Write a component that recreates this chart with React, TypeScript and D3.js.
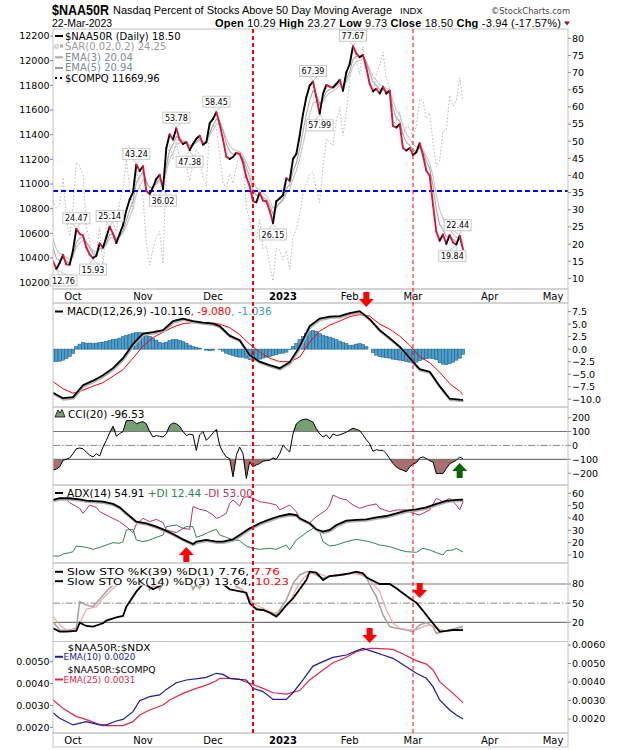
import React from 'react';
import * as d3 from 'd3';

// ---------------- calendar ----------------
const firstSession = '2022-09-23';
const axisEnd = '2023-05-20';
const marketHolidays = ['2022-11-24', '2022-12-26', '2023-01-02', '2023-01-16', '2023-02-20', '2023-04-07'];

// ---------------- header ----------------
const symbol = '$NAA50R';
const chartTitle = 'Nasdaq Percent of Stocks Above 50 Day Moving Average';
const exchange = 'INDX';
const lastDate = '22-Mar-2023';
const quoteFields = [
  { label: 'Open', value: '10.29' },
  { label: 'High', value: '23.27' },
  { label: 'Low', value: '9.73' },
  { label: 'Close', value: '18.50' },
  { label: 'Chg', value: '-3.94 (-17.57%)' },
];

// ---------------- price panel (daily closes, 23-Sep-2022 .. 22-Mar-2023) ----------------
const naa50r = [
  15.0, 12.76, 14.5, 16.8, 14.1, 14.0, 18.2, 24.47, 23.0, 22.5,
  19.0, 17.0, 15.93, 16.6, 20.2, 19.0, 22.0, 25.14, 23.0, 20.3,
  23.0, 25.5, 29.8, 33.0, 35.1, 43.24, 41.3, 42.7, 35.5, 34.6,
  36.6, 39.0, 40.2, 36.02, 48.0, 52.0, 50.5, 53.78, 50.4, 49.2,
  49.7, 47.38, 49.2, 50.7, 51.6, 49.0, 49.7, 55.2, 56.5, 58.45,
  55.0, 50.5, 45.5, 44.8, 45.4, 46.6, 46.3, 43.8, 39.5, 37.0,
  32.5, 32.2, 35.0, 32.7, 32.5, 29.8, 26.15, 32.5, 33.3, 34.3,
  39.2, 38.5, 44.8, 46.3, 51.6, 57.9, 62.8, 66.2, 67.39, 62.8,
  57.99, 63.8, 66.4, 65.9, 65.7, 66.7, 67.9, 64.7, 70.1, 72.5,
  77.67, 75.6, 74.5, 75.1, 71.5, 66.8, 64.6, 65.3, 63.9, 65.8,
  63.9, 64.7, 54.4, 54.0, 55.0, 48.0, 47.3, 48.0, 46.0, 46.8,
  49.4, 45.9, 41.4, 40.0, 31.5, 23.6, 21.0, 22.8, 20.1, 22.6,
  20.5, 19.84, 22.44, 18.5,
];
const compq = [
  10867.93, 10802.92, 10829.5, 11051.64, 10737.51, 10575.62,
  10815.43, 11176.41, 11148.64, 11073.31, 10652.41, 10542.1, 10426.19, 10417.1, 10649.15, 10321.39,
  10675.8, 10772.4, 10680.51, 10614.84, 10859.72, 10952.61, 11199.12, 10970.99, 10792.68, 11102.45, 10988.15,
  10890.85, 10524.8, 10342.94, 10475.25, 10564.52, 10616.2, 10353.17, 11114.15, 11323.33, 11196.22,
  11358.41, 11183.66, 11144.96, 11146.06, 11024.51, 11174.41, 11285.32, 11226.36, 11049.5, 10983.78, 11468.0,
  11482.45, 11461.5, 11239.94, 11014.89, 10958.55, 11082.0, 11004.62, 11143.74, 11256.81, 11170.89,
  10810.53, 10705.41, 10546.03, 10547.11, 10709.37, 10476.12, 10497.86, 10353.23, 10213.29, 10478.09, 10466.48,
  10386.98, 10458.76, 10305.24, 10569.29, 10635.65, 10742.63, 10931.67, 11001.1, 11079.16, 11095.11,
  10957.01, 10852.27, 11140.43, 11364.41, 11334.27, 11313.36, 11512.41, 11621.71, 11393.81, 11584.55,
  11816.32, 12200.82, 12006.95, 11887.45, 12113.79, 11910.52, 11789.58, 11718.12, 11891.79, 11960.15,
  12070.59, 11855.83, 11787.27, 11492.3, 11507.07, 11590.4, 11394.94, 11466.98, 11455.54,
  11379.48, 11462.98, 11689.01, 11675.74, 11530.33, 11576.0, 11338.35, 11138.89, 11188.84, 11428.15,
  11434.05, 11717.28, 11630.51, 11675.54, 11860.11, 11669.96,
];
const emaStart3 = 19.0;
const emaStart5 = 21.5;
const legendValues = { sar: '24.25', ema3: '20.04', ema5: '20.94' };
const breadthLevel = 35.5;
const markedDays = [60, 108];
const pointLabels = [
  { day: 1, above: false, dx: 0 }, { day: 7, above: true, dx: 0 }, { day: 12, above: false, dx: 0 },
  { day: 17, above: true, dx: 0 }, { day: 25, above: true, dx: 0 }, { day: 33, above: false, dx: 0 },
  { day: 37, above: true, dx: 0 }, { day: 41, above: false, dx: 0 }, { day: 49, above: true, dx: 0 },
  { day: 66, above: false, dx: 0 }, { day: 78, above: true, dx: 0 }, { day: 80, above: false, dx: 0 },
  { day: 90, above: true, dx: 0 }, { day: 121, above: false, dx: -4 }, { day: 122, above: true, dx: -2 },
];
const mainRightTicks = [80, 75, 70, 65, 60, 55, 50, 45, 40, 35, 30, 25, 20, 15, 10];
const mainLeftTicks = [12200, 12000, 11800, 11600, 11400, 11200, 11000, 10800, 10600, 10400, 10200];

// ---------------- MACD(12,26,9) ----------------
const macdDays = [0, 3, 6, 9, 12, 15, 18, 21, 24, 27, 30, 33, 36, 39, 42, 45, 48, 50, 53, 56, 59, 62, 65, 68, 71, 74, 77, 80, 83, 86, 89, 92, 95, 98, 101, 104, 107, 110, 113, 116, 119, 122, 123];
const macdLine = [-8.7, -9.8, -9.6, -7.2, -6.3, -5.2, -3.8, -1.8, 1.0, 3.1, 3.4, 3.8, 5.6, 6.1, 5.6, 5.3, 5.1, 4.6, 2.7, 1.8, -1.2, -2.5, -3.2, -3.8, -2.6, 0.5, 4.6, 6.1, 6.5, 6.6, 7.2, 7.6, 6.0, 3.8, 2.2, 0.5, -1.8, -4.0, -4.5, -7.4, -9.9, -10.1, -10.116];
const macdSignal = [-6.5, -7.9, -8.8, -8.2, -7.4, -6.7, -5.4, -4.1, -1.8, 0.6, 2.3, 3.4, 4.4, 5.1, 5.3, 5.3, 5.2, 5.0, 4.3, 2.9, 1.0, -0.6, -1.8, -2.5, -2.5, -1.6, 1.4, 3.6, 4.8, 5.6, 6.5, 6.9, 6.6, 5.0, 4.0, 2.6, 0.8, -1.5, -2.7, -4.6, -6.9, -8.4, -9.08];
const macdHist = [
  -2.5, -2.5, -2.4, -2.2, -1.9, -1.5, -0.9, 0.5, 1.0, 1.3, 1.2, 1.2, 1.1, 1.2, 1.3, 1.4, 1.5, 1.7, 1.9, 2.0,
  2.2, 2.5, 2.7, 2.9, 3.1, 3.3, 3.3, 3.2, 2.9, 2.5, 2.2, 1.8, 1.3, 1.2, 1.4, 1.7, 1.9, 1.9, 1.7, 1.5,
  1.2, 0.8, 0.5, 0.3, 0.2, 0.0, -0.2, -0.3, -0.2, 0.0,
  -0.1, -0.4, -0.8, -1.1, -1.3, -1.5, -1.6, -1.6, -1.8,
  -2.1, -2.3, -2.2, -2.0, -1.8, -1.6, -1.5, -1.3, -1.1, -0.9,
  -0.8, -0.6, -0.1, 0.5, 1.1, 1.9, 2.5, 3.1, 3.5, 3.7,
  3.5, 3.1, 2.7, 2.6, 2.4, 2.2, 1.9, 1.6, 1.3, 1.1,
  0.7, 0.8, 1.0, 1.1, 0.9, 0.5, 0.0, -0.7, -1.2, -1.5,
  -1.6, -1.7, -1.8, -2.0, -2.1, -2.2, -2.3, -2.5, -2.6, -2.8,
  -2.6, -2.3, -2.0, -1.9, -1.8, -1.9, -2.1, -2.7, -3.0, -3.1,
  -2.9, -2.6, -2.2, -1.8, -1.04,
];
const macdLegend = ['-10.116', '-9.080', '-1.036'];
const macdTicks = [7.5, 5, 2.5, 0, -2.5, -5, -7.5, -10];

// ---------------- CCI(20) ----------------
const cci = [
  -179, -170, -155, -107, -100, -90, -60, -24, -19, -24, -48, -70, -83, -60, -76, -12, 36, 90, 138, 67,
  85, 100, 179, 179, 179, 155, 165, 171, 155, 100, 60, 71, 65, 60, 83, 143, 162, 155, 138, 100,
  71, 80, 76, -36, 76, 100, 36, 60, 90, 114,
  0, -50, -83, -95, -226, -71, -12, -60, -238,
  -119, -155, -140, -131, -114, -110, -107, -90, -100, -60,
  0, -24, -48, 83, 155, 175, 186, 190, 180, 167,
  119, 83, 60, 76, 48, 83, 71, 76, 85, 95,
  110, 124, 115, 107, 76, 40, 12, -43, -31, -36,
  -36, -60, -95, -130, -155, -170, -179, -190, -155, -135,
  -124, -90, -83, -95, -110, -119, -202, -202, -202, -167,
  -131, -120, -107, -83, -96.53,
];
const cciTicks = [200, 100, 0, -100, -200];

// ---------------- ADX(14) ----------------
const adxDays = [0, 2, 5, 8, 10, 15, 18, 20, 22, 25, 28, 31, 33, 36, 39, 42, 43, 46, 49, 51, 54, 56, 59, 62, 65, 68, 71, 73, 74, 77, 79, 81, 83, 85, 88, 91, 94, 97, 100, 103, 106, 109, 112, 115, 118, 121, 123];
const adxLine = [54.6, 56, 56, 55.1, 54, 53.2, 51.4, 48.6, 43.8, 37, 35.7, 33, 30.8, 27, 22.7, 18.9, 20.8, 22.2, 20.8, 20.8, 22.7, 26.2, 31.6, 35.7, 38.9, 41.6, 43.2, 42.4, 39.7, 35.7, 30.8, 28.9, 30.3, 34.3, 37.8, 38.4, 38.9, 40.5, 41.6, 43.8, 45.9, 47, 48.6, 51.4, 53.8, 54.6, 54.91];
const minusDiDays = [0, 2, 4, 5, 8, 9, 10, 11, 13, 14, 17, 20, 22, 24, 25, 26, 27, 29, 31, 33, 34, 37, 39, 41, 42, 44, 46, 48, 49, 50, 52, 53, 54, 56, 57, 58, 60, 62, 65, 67, 68, 70, 71, 73, 74, 76, 77, 79, 82, 83, 84, 86, 88, 90, 92, 94, 97, 98, 101, 103, 106, 108, 110, 113, 115, 117, 119, 121, 122, 123];
const minusDi = [54.6, 56, 55, 52.4, 47.8, 43.8, 47, 50.5, 48.6, 45.1, 41, 37, 33, 28.1, 35.1, 37, 39.7, 37, 38.9, 36.2, 30.3, 28.1, 31.6, 30.8, 49.2, 47, 45.9, 42.4, 39.7, 40.5, 43.8, 51.9, 54.6, 49.7, 56, 57.3, 56, 53.2, 51.9, 50.5, 46.5, 49.2, 50.5, 45.1, 39.7, 35.7, 36.2, 41, 46.5, 50.5, 58.6, 56, 54.6, 50.5, 47.8, 49.7, 51.4, 47.8, 45.1, 46.5, 46.5, 43.8, 42.4, 46.5, 56, 53.2, 56, 50.5, 46.5, 53.0];
const plusDiDays = [0, 2, 3, 5, 6, 7, 10, 12, 14, 18, 20, 21, 22, 24, 25, 27, 29, 31, 33, 34, 37, 39, 40, 42, 43, 45, 47, 49, 50, 52, 54, 56, 58, 60, 62, 65, 67, 70, 71, 73, 76, 78, 80, 81, 83, 85, 88, 91, 95, 98, 101, 104, 106, 109, 111, 113, 115, 117, 118, 120, 121, 123];
const plusDi = [9.2, 9.2, 10.8, 11.9, 12.7, 17.3, 16.2, 14.6, 16.2, 20, 19.5, 20.8, 30.3, 30.8, 22.2, 20.8, 22.2, 24.3, 26.2, 33, 34.3, 31.6, 33, 33, 24.3, 26.2, 28.9, 30.8, 26.2, 24.3, 22.2, 21.6, 17.3, 15.4, 14.6, 15.4, 14.6, 18.1, 14.1, 22.2, 28.1, 31.6, 28.9, 20.8, 17.3, 18.1, 20.8, 22.7, 20.8, 18.1, 16.8, 14.1, 12.7, 12.2, 15.4, 14.1, 11.9, 10, 13.5, 14.1, 15.4, 12.44];
const adxTicks = [60, 50, 40, 30, 20, 10];

// ---------------- Slow Stochastics ----------------
const k39Days = [0, 2, 4, 7, 8, 10, 12, 15, 16, 19, 21, 22, 25, 27, 28, 30, 32, 34, 37, 39, 42, 45, 48, 49, 51, 53, 55, 58, 59, 61, 63, 65, 67, 68, 70, 72, 74, 76, 77, 79, 81, 83, 86, 89, 91, 93, 94, 96, 98, 100, 101, 103, 105, 107, 109, 110, 112, 114, 116, 118, 120, 123];
const k39 = [10.6, 5.4, 5.4, 6.4, 19.5, 14.3, 13.2, 18.4, 22.6, 27.8, 29.9, 44.5, 68, 80, 78.4, 71.7, 76.9, 81, 86.3, 87.3, 83.7, 88.9, 86.3, 86.3, 80, 71.7, 69.6, 66.4, 49.7, 40.4, 39.3, 35.1, 28.9, 34.1, 47.1, 57.6, 71.7, 86.3, 99.3, 97.7, 86.3, 92.5, 94.1, 96.7, 99.3, 96.7, 90.4, 85.2, 80, 80, 80, 73.2, 65.4, 57.6, 50.8, 44.5, 31.5, 18.4, 5.4, 6.4, 8, 7.76];
const k14Days = [0, 2, 5, 7, 8, 10, 12, 14, 16, 18, 20, 22, 25, 28, 29, 31, 32, 34, 38, 41, 42, 43, 44, 46, 49, 53, 55, 57, 59, 60, 62, 65, 67, 68, 70, 72, 74, 76, 77, 79, 81, 83, 87, 90, 91, 94, 95, 97, 99, 101, 103, 106, 108, 110, 112, 114, 115, 117, 119, 121, 123];
const k14 = [21, 8, 7, 10.6, 52.4, 47.1, 44.5, 56, 68, 78.4, 88, 95, 92, 85, 70.6, 82, 71.7, 90, 95, 85, 71.7, 80, 73.2, 92, 95, 90, 75.8, 70.6, 55, 44.5, 40.4, 36.7, 31.5, 39.3, 55, 81, 94.1, 99.3, 99.3, 94.1, 88.9, 92.5, 94.1, 97.7, 97.7, 91.5, 78.4, 60.2, 31.5, 13.2, 10.6, 8, 5.4, 15.8, 19.5, 13.2, 2.8, 5.4, 8, 10.6, 13.64];
const d3Days = [0, 2, 4, 7, 9, 10, 13, 15, 18, 20, 22, 25, 28, 30, 32, 34, 38, 41, 43, 45, 47, 49, 53, 55, 58, 60, 63, 66, 68, 71, 73, 75, 77, 80, 82, 86, 90, 93, 95, 98, 100, 102, 104, 107, 109, 111, 113, 115, 118, 120, 123];
const d3Line = [29, 16, 8, 8, 29, 40.4, 44.5, 57.6, 73.2, 82, 90, 93, 85, 76, 76, 82, 92, 86, 76, 80, 88, 93, 88, 78, 65.4, 49.7, 41.9, 34, 36.7, 49.7, 73.2, 88.9, 96.7, 96, 91.5, 94, 96.7, 94, 86.3, 68, 39.3, 18.4, 10.6, 8, 8, 13.2, 15.8, 10.6, 5.4, 7, 10.23];
const stoTicks = [80, 50, 20];

// ---------------- relative strength ratios ----------------
const ndxRatioDays = [0, 2, 6, 10, 14, 16, 19, 21, 24, 26, 29, 32, 34, 37, 40, 44, 46, 49, 51, 53, 56, 58, 60, 63, 66, 70, 72, 75, 78, 81, 84, 88, 91, 93, 96, 99, 102, 106, 109, 112, 114, 116, 119, 121, 123];
const ndxRatioEma10 = [0.00234, 0.00204, 0.00168, 0.00186, 0.00168, 0.00168, 0.00189, 0.00198, 0.0024, 0.00299, 0.00321, 0.0033, 0.0036, 0.00396, 0.00411, 0.0042, 0.00425, 0.00447, 0.00441, 0.0042, 0.00414, 0.00411, 0.00366, 0.00348, 0.00306, 0.00306, 0.00342, 0.00411, 0.00486, 0.0051, 0.00533, 0.00546, 0.00569, 0.00582, 0.00564, 0.00546, 0.00528, 0.00483, 0.00447, 0.0042, 0.00375, 0.00303, 0.00249, 0.00222, 0.002];
const compqRatioDays = [0, 3, 7, 9, 13, 15, 18, 21, 24, 26, 29, 33, 35, 39, 43, 46, 49, 50, 53, 56, 59, 63, 66, 70, 74, 77, 81, 84, 88, 91, 95, 97, 102, 105, 109, 112, 114, 116, 120, 123];
const compqRatioEma25 = [0.00325, 0.00287, 0.00249, 0.00241, 0.00218, 0.00208, 0.00208, 0.00208, 0.00226, 0.00256, 0.00279, 0.00302, 0.00325, 0.00355, 0.00378, 0.00393, 0.00413, 0.00424, 0.00424, 0.00419, 0.00401, 0.00378, 0.00358, 0.00352, 0.00368, 0.00416, 0.00462, 0.00495, 0.0052, 0.00546, 0.00561, 0.00561, 0.00556, 0.00535, 0.00505, 0.00489, 0.00462, 0.00409, 0.00355, 0.00313];
const ratioRightTicks = [0.006, 0.005, 0.004, 0.003, 0.002];
const ratioLeftTicks = [0.005, 0.004, 0.003, 0.002];

// ---------------- annotation arrows ----------------
const signalArrows = [
  { day: 94, tipY: 307, dir: 'down', color: '#ff0000' },
  { day: 40, tipY: 547, dir: 'up', color: '#ff0000' },
  { day: 110, tipY: 598, dir: 'down', color: '#ff0000' },
  { day: 95, tipY: 643, dir: 'down', color: '#ff0000' },
  { day: 122, tipY: 463, dir: 'up', color: '#006400' },
];

// ============================================================
const FONT = '"DejaVu Sans", Verdana, sans-serif';
const ARIAL = '"Liberation Sans", Arial, sans-serif';
const NARROW = '"Liberation Sans Narrow", "Liberation Sans", Arial, sans-serif';
const FRAME = '#c4c4c4';
const RED = '#dc143c';

const L = 53, R = 568;
const P = {
  main: [29, 289], mainDates: [289, 303], macd: [303, 407], cci: [407, 485],
  adx: [485, 563], sto: [563, 641.5], ratio: [641.5, 733], ratioDates: [733, 747],
};

const parse = d3.timeParse('%Y-%m-%d');
const ymd = d3.timeFormat('%Y-%m-%d');
const sessions = d3.timeDay
  .range(parse(firstSession)!, parse(axisEnd)!)
  .filter((d) => d.getDay() !== 0 && d.getDay() !== 6 && !marketHolidays.includes(ymd(d)));

const x = d3.scaleLinear().domain([0, 154.5]).range([L, R]);
const yMain = d3.scaleLinear().domain([10, 80]).range([278.4, 38.3]);
const yCompq = d3.scaleLinear().domain([10200, 12200]).range([282.7, 36]);
const yMacd = d3.scaleLinear().domain([-10, 7.5]).range([399.2, 311.6]);
const yCci = d3.scaleLinear().domain([-200, 200]).range([473.2, 417.6]);
const yAdx = d3.scaleLinear().domain([10, 60]).range([555, 493.3]);
const ySto = d3.scaleLinear().domain([20, 80]).range([622.3, 584]);
const yRatioR = d3.scaleLinear().domain([0.002, 0.006]).range([719, 645]);
const yRatioL = d3.scaleLinear().domain([0.002, 0.005]).range([727.3, 661.7]);

const monthTicks = sessions
  .map((d, i) => ({ d, i }))
  .filter(({ d, i }) => i > 0 && d.getMonth() !== sessions[i - 1].getMonth() && i <= 154);

const emaOf = (vals: number[], n: number, start: number) => {
  const k = 2 / (n + 1);
  const out: number[] = [];
  vals.forEach((v, i) => out.push(i === 0 ? start : out[i - 1] + k * (v - out[i - 1])));
  return out;
};
const ema3 = emaOf(naa50r, 3, emaStart3);
const ema5 = emaOf(naa50r, 5, emaStart5);

const pathOf = (days: number[], vals: number[], y: d3.ScaleLinear<number, number>) =>
  d3.line<number>().x((_, i) => x(days[i])).y((v) => y(v))(vals) || '';
const daily = (n: number) => d3.range(n);

const blockArrow = (cx: number, tipY: number, dir: string) => {
  const s = dir === 'down' ? 1 : -1;
  const baseY = tipY - s * 15;
  const neckY = tipY - s * 8;
  return `M${cx - 3},${baseY}L${cx + 3},${baseY}L${cx + 3},${neckY}L${cx + 7.5},${neckY}L${cx},${tipY}L${cx - 7.5},${neckY}L${cx - 3},${neckY}Z`;
};

const RightAxis = ({ ticks, y, fmt }: { ticks: number[]; y: d3.ScaleLinear<number, number>; fmt: (v: number) => string }) => (
  <g fontFamily={FONT} fontSize={9.5} fill="#000">
    {ticks.map((t) => (
      <g key={t}>
        <line x1={R} x2={R + 3} y1={y(t)} y2={y(t)} stroke="#888" />
        <text x={R + 4} y={y(t) + 3.4}>{fmt(t)}</text>
      </g>
    ))}
  </g>
);
const LeftAxis = ({ ticks, y, fmt }: { ticks: number[]; y: d3.ScaleLinear<number, number>; fmt: (v: number) => string }) => (
  <g fontFamily={FONT} fontSize={9.5} fill="#000" textAnchor="end">
    {ticks.map((t) => (
      <g key={t}>
        <line x1={L - 3} x2={L} y1={y(t)} y2={y(t)} stroke="#888" />
        <text x={L - 3.5} y={y(t) + 3.4}>{fmt(t)}</text>
      </g>
    ))}
  </g>
);
const DateLabels = ({ y }: { y: number }) => (
  <g fontFamily={FONT} fontSize={10} textAnchor="middle">
    {monthTicks.map(({ d, i }) => (
      <text key={i} x={x(i)} y={y} fontWeight={d.getMonth() === 0 ? 'bold' : 'normal'}>
        {d.getMonth() === 0 ? d3.timeFormat('%Y')(d) : d3.timeFormat('%b')(d)}
      </text>
    ))}
  </g>
);
const Frame = ({ band }: { band: number[] }) => (
  <rect x={L} y={band[0]} width={R - L} height={band[1] - band[0]} fill="none" stroke={FRAME} />
);
const LegendLine = ({ y, color, w = 2 }: { y: number; color: string; w?: number }) => (
  <line x1={55} x2={63} y1={y} y2={y} stroke={color} strokeWidth={w} />
);

const f1 = d3.format('.1f');
const f4 = d3.format('.4f');
const fInt = d3.format('d');

export default function App() {
  const lastClose = naa50r[naa50r.length - 1];
  const lastCompq = compq[compq.length - 1];
  const histW = x(1) - x(0);

  const cciUpper = d3.area<number>().x((_, i) => x(i)).y0(yCci(100)).y1((v) => yCci(Math.max(v, 100)));
  const cciLower = d3.area<number>().x((_, i) => x(i)).y0(yCci(-100)).y1((v) => yCci(Math.min(v, -100)));

  return (
    <svg width={620} height={750} style={{ position: 'absolute', left: 0, top: 0, background: '#fff' }}>
      <defs>
        {Object.entries(P).map(([k, b]) => (
          <clipPath id={`clip-${k}`} key={k}>
            <rect x={L} y={b[0]} width={R - L} height={b[1] - b[0]} />
          </clipPath>
        ))}
      </defs>
      <rect width={620} height={750} fill="#fff" />

      {/* header */}
      <text x={52} y={14.5} fontFamily={NARROW} fontWeight="bold" fontSize={15} textLength={57} lengthAdjust="spacingAndGlyphs">{symbol}</text>
      <text x={113} y={14} fontFamily={ARIAL} fontSize={11} textLength={279} lengthAdjust="spacingAndGlyphs">{chartTitle}</text>
      <text x={400} y={14} fontFamily={ARIAL} fontSize={9.5}>{exchange}</text>
      <text x={491} y={14} fontFamily={FONT} fontSize={9.5} fill="#444" textLength={79} lengthAdjust="spacingAndGlyphs">©StockCharts.com</text>
      <text x={52} y={26.5} fontFamily={ARIAL} fontSize={10.5}>{lastDate}</text>
      <text x={215} y={26.5} fontFamily={ARIAL} fontSize={11} textLength={346} lengthAdjust="spacing">
        {quoteFields.map((q, i) => (
          <React.Fragment key={q.label}>
            <tspan fontWeight="bold">{(i === 0 ? '' : '  ') + q.label}</tspan>
            <tspan>{' ' + q.value}</tspan>
          </React.Fragment>
        ))}
      </text>
      <path d="M564,21.5L570,21.5L567,25.5Z" fill="#8b1a1a" />

      {/* ---------------- price panel ---------------- */}
      <g clipPath="url(#clip-main)">
        <path d={pathOf(daily(compq.length), compq, yCompq)} fill="none" stroke="#b8b8b8" strokeWidth={1} strokeDasharray="1.5 2" />
        <path d={pathOf(daily(ema5.length), ema5, yMain)} fill="none" stroke="#c6c6c6" strokeWidth={1.1} />
        <path d={pathOf(daily(ema3.length), ema3, yMain)} fill="none" stroke="#a8a8a8" strokeWidth={1.1} />
        <line x1={L} x2={R} y1={yMain(breadthLevel)} y2={yMain(breadthLevel)} stroke="#0000ff" strokeWidth={2} strokeDasharray="5 3" />
        {naa50r.slice(1).map((v, k) => (
          <line key={k} x1={x(k)} y1={yMain(naa50r[k])} x2={x(k + 1)} y2={yMain(v)}
            stroke={v >= naa50r[k] ? '#000' : RED} strokeWidth={1.9} strokeLinecap="round" />
        ))}
      </g>
      <Frame band={P.main} />
      <Frame band={P.mainDates} />
      <RightAxis ticks={mainRightTicks} y={yMain} fmt={fInt} />
      <LeftAxis ticks={mainLeftTicks} y={yCompq} fmt={fInt} />
      {pointLabels.map((p) => {
        const v = naa50r[p.day];
        const px = x(p.day), py = yMain(v);
        const txt = v.toFixed(2);
        const w = 27, h = 11;
        let cx = px + p.dx;
        if (cx - w / 2 < 50) cx = 50 + w / 2;
        const top = p.above ? py - 5 - h : py + 6;
        const edge = p.above ? top + h : top;
        return (
          <g key={p.day}>
            <path d={`M${cx - 4},${edge}L${px},${p.above ? py - 1 : py + 1}L${cx + 4},${edge}`} fill="#fff" stroke="#c8c8c8" />
            <rect x={cx - w / 2} y={top} width={w} height={h} fill="#fff" stroke="#c8c8c8" />
            <text x={cx} y={top + 8.6} textAnchor="middle" fontFamily={FONT} fontSize={8}>{txt}</text>
          </g>
        );
      })}
      <DateLabels y={300} />
      <g fontFamily={FONT} fontSize={10}>
        <LegendLine y={36} color="#000" />
        <text x={65} y={39.6}>{`${symbol} (Daily) ${lastClose.toFixed(2)}`}</text>
        <rect x={55} y={45} width={3} height={3} fill="none" stroke="#aaa" strokeWidth={0.8} />
        <rect x={60} y={44.5} width={3} height={3} fill="#aaa" />
        <text x={65} y={50.2} fill="#9a9a9a">{`SAR(0.02,0.2) ${legendValues.sar}`}</text>
        <LegendLine y={57.3} color="#a8a8a8" />
        <text x={65} y={60.8} fill="#7d8a96">{`EMA(3) ${legendValues.ema3}`}</text>
        <LegendLine y={68} color="#999" />
        <text x={65} y={71.4} fill="#7d8a96">{`EMA(5) ${legendValues.ema5}`}</text>
        <rect x={55} y={77} width={2} height={2} fill="#000" />
        <rect x={60} y={77} width={2} height={2} fill="#000" />
        <text x={65} y={82}>{`$COMPQ ${lastCompq.toFixed(2)}`}</text>
      </g>

      {/* ---------------- MACD ---------------- */}
      <g clipPath="url(#clip-macd)">
        {macdHist.map((v, i) => (
          <rect key={i} x={x(i) - histW / 2} width={histW} y={Math.min(yMacd(0), yMacd(v))}
            height={Math.abs(yMacd(v) - yMacd(0))} fill="#4d9ecb" stroke="#23628c" strokeWidth={0.6} />
        ))}
        <path d={pathOf(macdDays, macdSignal, yMacd)} fill="none" stroke="#ff0000" strokeWidth={1} />
        <path d={pathOf(macdDays, macdLine, yMacd)} transform="translate(0.6,1.2)" fill="none" stroke="#b0b0b0" strokeWidth={2.4} />
        <path d={pathOf(macdDays, macdLine, yMacd)} fill="none" stroke="#000" strokeWidth={1.8} />
      </g>
      <Frame band={P.macd} />
      <RightAxis ticks={macdTicks} y={yMacd} fmt={f1} />
      <g fontFamily={FONT} fontSize={10.5}>
        <LegendLine y={311.5} color="#000" />
        <text x={67} y={315.3}>
          {`MACD(12,26,9) ${macdLegend[0]}`}
          <tspan fill="#ff0000">{`, ${macdLegend[1]}`}</tspan>
          <tspan fill="#3a9ad0">{`, ${macdLegend[2]}`}</tspan>
        </text>
      </g>

      {/* ---------------- CCI ---------------- */}
      <g clipPath="url(#clip-cci)">
        <path d={cciUpper(cci) || ''} fill="#74a074" />
        <path d={cciLower(cci) || ''} fill="#a8706e" />
        <line x1={L} x2={R} y1={yCci(100)} y2={yCci(100)} stroke="#777" strokeWidth={1.2} />
        <line x1={L} x2={R} y1={yCci(-100)} y2={yCci(-100)} stroke="#777" strokeWidth={1.2} />
        <line x1={L} x2={R} y1={yCci(0)} y2={yCci(0)} stroke="#888" strokeWidth={1} strokeDasharray="7 2 1.5 2" />
        <path d={pathOf(daily(cci.length), cci, yCci)} fill="none" stroke="#000" strokeWidth={1} />
      </g>
      <Frame band={P.cci} />
      <RightAxis ticks={cciTicks} y={yCci} fmt={fInt} />
      <g fontFamily={FONT} fontSize={10.5}>
        <path d="M55,417L58,410L60,413L62,409.5L65,417Z" fill="#74a074" stroke="#000" strokeWidth={0.8} />
        <text x={68} y={418}>{`CCI(20) ${cci[cci.length - 1].toFixed(2)}`}</text>
      </g>

      {/* ---------------- ADX ---------------- */}
      <g clipPath="url(#clip-adx)">
        <path d={pathOf(minusDiDays, minusDi, yAdx)} fill="none" stroke="#b8325e" strokeWidth={1} />
        <path d={pathOf(plusDiDays, plusDi, yAdx)} fill="none" stroke="#2f8258" strokeWidth={1} />
        <path d={pathOf(adxDays, adxLine, yAdx)} transform="translate(0.6,1.2)" fill="none" stroke="#b0b0b0" strokeWidth={2.4} />
        <path d={pathOf(adxDays, adxLine, yAdx)} fill="none" stroke="#000" strokeWidth={1.8} />
      </g>
      <Frame band={P.adx} />
      <RightAxis ticks={adxTicks} y={yAdx} fmt={fInt} />
      <g fontFamily={FONT} fontSize={10.5}>
        <LegendLine y={493} color="#000" />
        <text x={67} y={497}>
          {`ADX(14) ${adxLine[adxLine.length - 1].toFixed(2)}`}
          <tspan fill="#2f8258">{` +DI ${plusDi[plusDi.length - 1].toFixed(2)}`}</tspan>
          <tspan fill="#b8325e">{` -DI ${minusDi[minusDi.length - 1].toFixed(2)}`}</tspan>
        </text>
      </g>

      {/* ---------------- Slow STO ---------------- */}
      <g clipPath="url(#clip-sto)">
        <line x1={L} x2={R} y1={ySto(80)} y2={ySto(80)} stroke="#777" strokeWidth={1.2} />
        <line x1={L} x2={R} y1={ySto(20)} y2={ySto(20)} stroke="#777" strokeWidth={1.2} />
        <line x1={L} x2={R} y1={ySto(50)} y2={ySto(50)} stroke="#888" strokeWidth={1} strokeDasharray="7 2 1.5 2" />
        <path d={pathOf(k14Days, k14, ySto)} fill="none" stroke="#a4a4a4" strokeWidth={1.6} />
        <path d={pathOf(d3Days, d3Line, ySto)} fill="none" stroke="#f3a3a3" strokeWidth={1.2} />
        <path d={pathOf(k39Days, k39, ySto)} fill="none" stroke="#000" strokeWidth={1.8} />
        <rect x={54} y={566} width={228} height={10.5} fill="#fff" />
        <rect x={54} y={576.5} width={238} height={9} fill="#fff" />
      </g>
      <Frame band={P.sto} />
      <RightAxis ticks={stoTicks} y={ySto} fmt={fInt} />
      <g fontFamily={FONT} fontSize={9}>
        <LegendLine y={571.8} color="#000" />
        <text x={67} y={575} textLength={213} lengthAdjust="spacingAndGlyphs">
          {`Slow STO %K(39) %D(1) ${k39[k39.length - 1].toFixed(2)},`}
          <tspan fill="#ff0000">{` ${k39[k39.length - 1].toFixed(2)}`}</tspan>
        </text>
        <LegendLine y={581.2} color="#000" />
        <text x={67} y={584.5} textLength={222} lengthAdjust="spacingAndGlyphs">
          {`Slow STO %K(14) %D(3) ${k14[k14.length - 1].toFixed(2)},`}
          <tspan fill="#ff0000">{` ${d3Line[d3Line.length - 1].toFixed(2)}`}</tspan>
        </text>
      </g>

      {/* ---------------- ratio panel ---------------- */}
      <g clipPath="url(#clip-ratio)">
        <path d={pathOf(compqRatioDays, compqRatioEma25, yRatioL)} fill="none" stroke="#e0284a" strokeWidth={1.2} />
        <path d={pathOf(ndxRatioDays, ndxRatioEma10, yRatioR)} fill="none" stroke="#1c1c9a" strokeWidth={1.2} />
      </g>
      <Frame band={P.ratio} />
      <Frame band={P.ratioDates} />
      <RightAxis ticks={ratioRightTicks} y={yRatioR} fmt={f4} />
      <LeftAxis ticks={ratioLeftTicks} y={yRatioL} fmt={f4} />
      <DateLabels y={743.5} />
      <g fontFamily={FONT} fontSize={9}>
        <text x={67.5} y={650.5} textLength={83} lengthAdjust="spacingAndGlyphs">$NAA50R:$NDX</text>
        <LegendLine y={656.8} color="#1c1c9a" />
        <text x={63.5} y={660} fill="#1c1c9a" textLength={72} lengthAdjust="spacingAndGlyphs">{`EMA(10) ${ndxRatioEma10[ndxRatioEma10.length - 1].toFixed(4)}`}</text>
        <text x={67.5} y={672.5} textLength={88} lengthAdjust="spacingAndGlyphs">$NAA50R:$COMPQ</text>
        <LegendLine y={679.5} color="#e0284a" />
        <text x={63.5} y={682.5} fill="#e0284a" textLength={72} lengthAdjust="spacingAndGlyphs">{`EMA(25) ${compqRatioEma25[compqRatioEma25.length - 1].toFixed(4)}`}</text>
      </g>

      {/* vertical markers and signal arrows */}
      {markedDays.map((d, i) => (
        <line key={d} x1={x(d)} x2={x(d)} y1={P.main[0]} y2={P.ratio[1]} stroke="#ff0000"
          strokeWidth={i === 0 ? 2 : 1} strokeDasharray="4 3" />
      ))}
      {signalArrows.map((a, i) => (
        <path key={i} d={blockArrow(x(a.day), a.tipY, a.dir)} fill={a.color} />
      ))}
    </svg>
  );
}
